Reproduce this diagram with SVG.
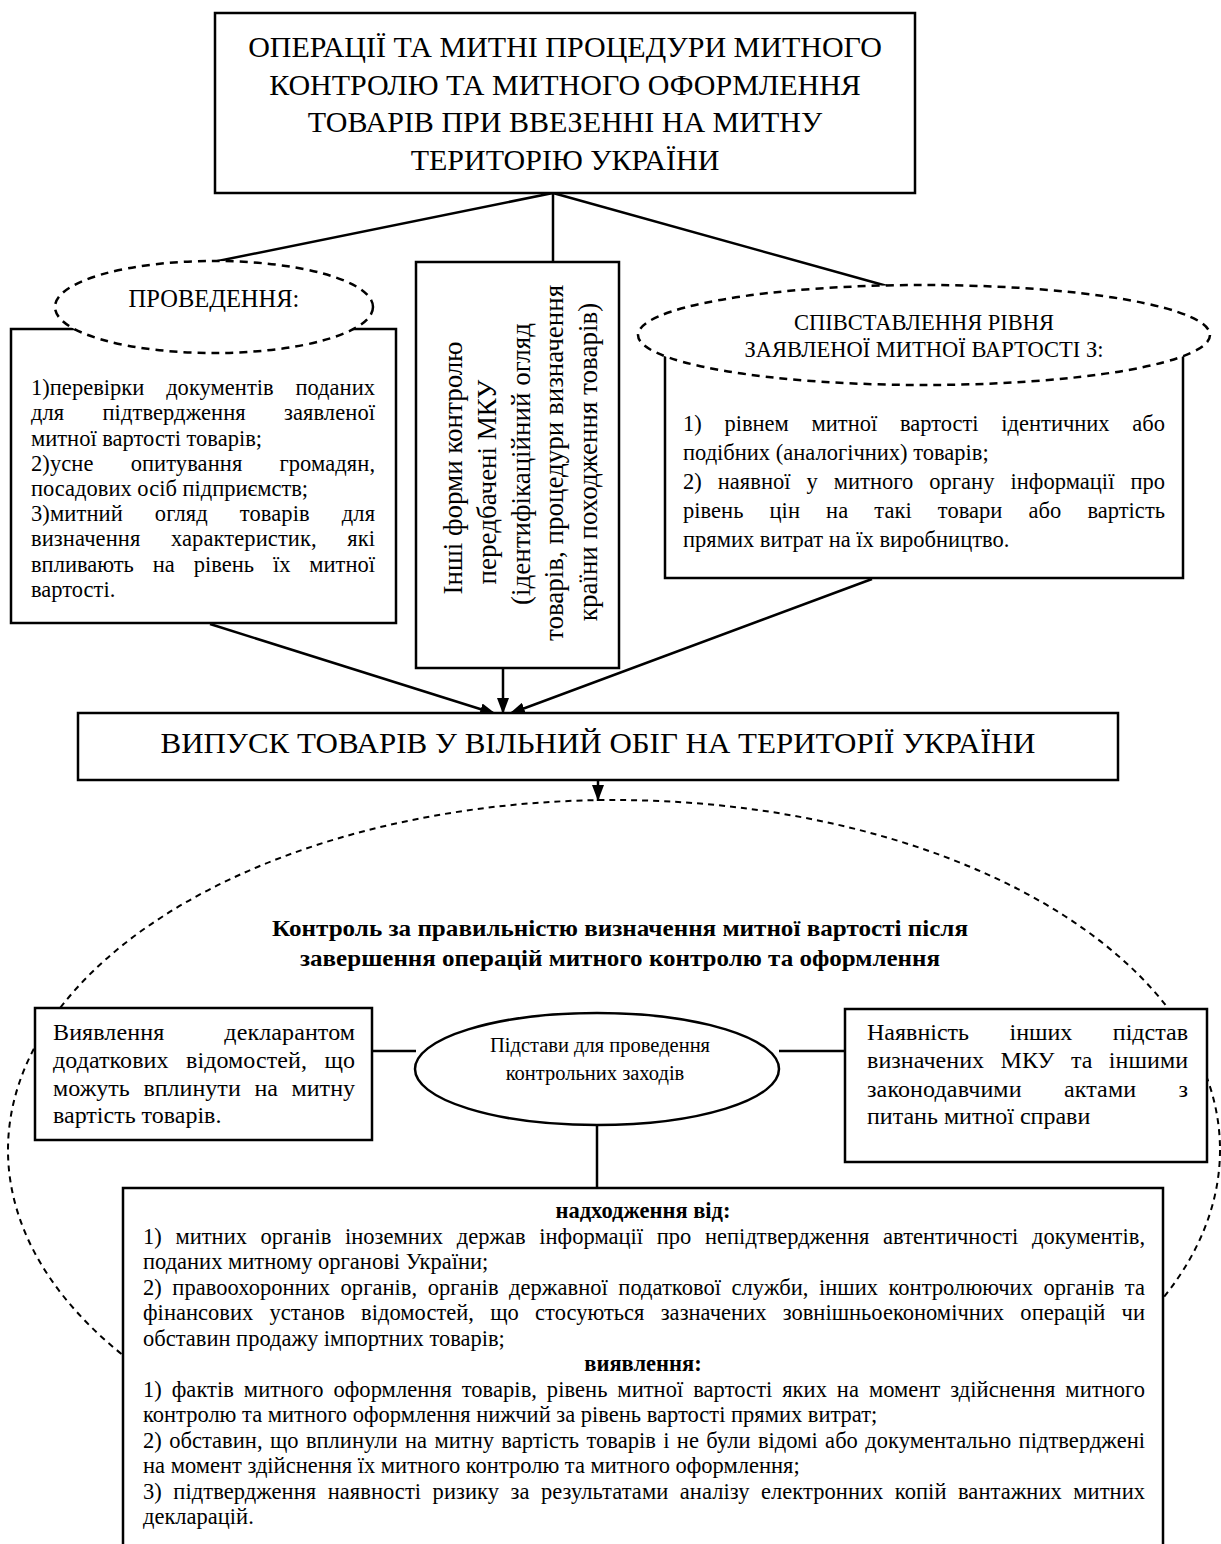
<svg xmlns="http://www.w3.org/2000/svg" width="1221" height="1544" viewBox="0 0 1221 1544">
<defs>
<marker id="ah" markerWidth="16" markerHeight="12" refX="16" refY="6" orient="auto" markerUnits="userSpaceOnUse">
<path d="M0,0 L16,6 L0,12 z" fill="#000"/>
</marker>
</defs>
<style>
text{font-family:"Liberation Serif","Times New Roman",serif;fill:#000}
.box{fill:#fff;stroke:#000;stroke-width:2.5}
.dash{fill:#fff;stroke:#000;stroke-width:2.5;stroke-dasharray:8 6}
.big{fill:none;stroke:#000;stroke-width:2;stroke-dasharray:6 5}
.ln{stroke:#000;stroke-width:2.5;fill:none}
.t30{font-size:30px}
.t22{font-size:22.5px}
.t24{font-size:24px}
.tv{font-size:27px}
.b{font-weight:bold}
</style>
<rect width="1221" height="1544" fill="#fff"/>

<g id="big-ellipse">
<ellipse class="big" cx="614" cy="1150" rx="606" ry="350"/>
</g>

<g id="connectors">
<line class="ln" x1="553" y1="193" x2="213" y2="262"/>
<line class="ln" x1="553" y1="193" x2="553" y2="262"/>
<line class="ln" x1="553" y1="193" x2="887" y2="286"/>
<line class="ln" x1="210" y1="624" x2="496" y2="714" stroke-width="3" marker-end="url(#ah)"/>
<line class="ln" x1="503" y1="668" x2="503" y2="714" marker-end="url(#ah)"/>
<line class="ln" x1="872" y1="579" x2="509" y2="714" stroke-width="3" marker-end="url(#ah)"/>
<line class="ln" x1="598" y1="780" x2="598" y2="801" stroke-width="2" marker-end="url(#ah)"/>
<line class="ln" x1="372" y1="1051" x2="416" y2="1051"/>
<line class="ln" x1="779" y1="1051" x2="845" y2="1051"/>
<line class="ln" x1="597" y1="1125" x2="597" y2="1188" stroke-width="2"/>
</g>

<g id="title">
<rect class="box" x="215" y="13" width="700" height="180"/>
<text class="t30" text-anchor="middle" x="565" y="57">ОПЕРАЦІЇ ТА МИТНІ ПРОЦЕДУРИ МИТНОГО</text>
<text class="t30" text-anchor="middle" x="565" y="94.5">КОНТРОЛЮ ТА МИТНОГО ОФОРМЛЕННЯ</text>
<text class="t30" text-anchor="middle" x="565" y="132">ТОВАРІВ ПРИ ВВЕЗЕННІ НА МИТНУ</text>
<text class="t30" text-anchor="middle" x="565" y="169.5">ТЕРИТОРІЮ УКРАЇНИ</text>
</g>

<g id="left-box">
<rect class="box" x="11" y="329" width="385" height="294"/>
<g class="t22">
<text x="31" y="395" word-spacing="16.1" textLength="344" lengthAdjust="spacing">1)перевірки документів поданих</text>
<text x="31" y="420" word-spacing="32.4" textLength="344" lengthAdjust="spacing">для підтвердження заявленої</text>
<text x="31" y="445.5">митної вартості товарів;</text>
<text x="31" y="470.5" word-spacing="31.4" textLength="344" lengthAdjust="spacing">2)усне опитування громадян,</text>
<text x="31" y="496">посадових осіб підприємств;</text>
<text x="31" y="521" word-spacing="26.3" textLength="344" lengthAdjust="spacing">3)митний огляд товарів для</text>
<text x="31" y="546" word-spacing="24.8" textLength="344" lengthAdjust="spacing">визначення характеристик, які</text>
<text x="31" y="571.5" word-spacing="13.3" textLength="344" lengthAdjust="spacing">впливають на рівень їх митної</text>
<text x="31" y="596.5">вартості.</text>
</g>
</g>

<g id="left-ellipse">
<ellipse class="dash" cx="214" cy="307" rx="159" ry="46"/>
<text x="214" y="307" font-size="24.5" text-anchor="middle">ПРОВЕДЕННЯ:</text>
</g>

<g id="middle-box">
<rect class="box" x="416" y="262" width="203" height="406"/>
<g class="tv" text-anchor="middle">
<text transform="translate(462,468) rotate(-90)">Інші форми контролю</text>
<text transform="translate(496,482) rotate(-90)">передбачені МКУ</text>
<text transform="translate(530,464) rotate(-90)">(ідентифікаційний огляд</text>
<text transform="translate(563,463) rotate(-90)">товарів, процедури визначення</text>
<text transform="translate(597,462) rotate(-90)">країни походження товарів)</text>
</g>
</g>

<g id="right-box">
<rect class="box" x="665" y="345" width="518" height="233"/>
<g class="t22">
<text x="683" y="431" word-spacing="17.1" textLength="482" lengthAdjust="spacing">1) рівнем митної вартості ідентичних або</text>
<text x="683" y="460">подібних (аналогічних) товарів;</text>
<text x="683" y="489" word-spacing="10.3" textLength="482" lengthAdjust="spacing">2) наявної у митного органу інформації про</text>
<text x="683" y="518" word-spacing="20.5" textLength="482" lengthAdjust="spacing">рівень цін на такі товари або вартість</text>
<text x="683" y="547">прямих витрат на їх виробництво.</text>
</g>
</g>

<g id="right-ellipse">
<ellipse class="dash" cx="924" cy="335" rx="286" ry="50"/>
<text class="t22" x="924" y="330" text-anchor="middle">СПІВСТАВЛЕННЯ РІВНЯ</text>
<text class="t22" x="924" y="357" text-anchor="middle">ЗАЯВЛЕНОЇ МИТНОЇ ВАРТОСТІ З:</text>
</g>

<g id="release-box">
<rect class="box" x="78" y="713" width="1040" height="67"/>
<text class="t30" x="598" y="753" text-anchor="middle" textLength="875" lengthAdjust="spacingAndGlyphs">ВИПУСК ТОВАРІВ У ВІЛЬНИЙ ОБІГ НА ТЕРИТОРІЇ УКРАЇНИ</text>
</g>

<g id="control-title">
<text class="b" font-size="24" x="620" y="936" text-anchor="middle" textLength="696" lengthAdjust="spacingAndGlyphs">Контроль за правильністю визначення митної вартості після</text>
<text class="b" font-size="24" x="620" y="966" text-anchor="middle" textLength="640" lengthAdjust="spacingAndGlyphs">завершення операцій митного контролю та оформлення</text>
</g>

<g id="declarant-box">
<rect class="box" x="35" y="1008" width="337" height="132"/>
<g class="t24">
<text x="53" y="1040" word-spacing="53.9" textLength="302" lengthAdjust="spacing">Виявлення декларантом</text>
<text x="53" y="1068" word-spacing="11.4" textLength="302" lengthAdjust="spacing">додаткових відомостей, що</text>
<text x="53" y="1096" word-spacing="7.6" textLength="302" lengthAdjust="spacing">можуть вплинути на митну</text>
<text x="53" y="1123">вартість товарів.</text>
</g>
</g>

<g id="grounds-ellipse">
<ellipse class="box" cx="597" cy="1069" rx="182" ry="56"/>
<text x="600" y="1052" font-size="20.5" text-anchor="middle">Підстави для проведення</text>
<text x="595" y="1080" font-size="20.5" text-anchor="middle">контрольних заходів</text>
</g>

<g id="other-box">
<rect class="box" x="845" y="1009" width="362" height="153"/>
<g class="t24">
<text x="867" y="1040" word-spacing="34.5" textLength="321" lengthAdjust="spacing">Наявність інших підстав</text>
<text x="867" y="1068" word-spacing="10.3" textLength="321" lengthAdjust="spacing">визначених МКУ та іншими</text>
<text x="867" y="1097" word-spacing="36.2" textLength="321" lengthAdjust="spacing">законодавчими актами з</text>
<text x="867" y="1124">питань митної справи</text>
</g>
</g>

<g id="details-box">
<rect class="box" x="123" y="1188" width="1040" height="400"/>
<g class="t22">
<text class="b" x="643" y="1218" text-anchor="middle">надходження від:</text>
<text x="143" y="1243.5" word-spacing="8" textLength="1002" lengthAdjust="spacing">1) митних органів іноземних держав інформації про непідтвердження автентичності документів,</text>
<text x="143" y="1269">поданих митному органові України;</text>
<text x="143" y="1294.5" word-spacing="4.8" textLength="1002" lengthAdjust="spacing">2) правоохоронних органів, органів державної податкової служби, інших контролюючих органів та</text>
<text x="143" y="1320" word-spacing="10.6" textLength="1002" lengthAdjust="spacing">фінансових установ відомостей, що стосуються зазначених зовнішньоекономічних операцій чи</text>
<text x="143" y="1345.5">обставин продажу імпортних товарів;</text>
<text class="b" x="643" y="1371" text-anchor="middle">виявлення:</text>
<text x="143" y="1396.5" word-spacing="4.2" textLength="1002" lengthAdjust="spacing">1) фактів митного оформлення товарів, рівень митної вартості яких на момент здійснення митного</text>
<text x="143" y="1422">контролю та митного оформлення нижчий за рівень вартості прямих витрат;</text>
<text x="143" y="1447.5" word-spacing="1.7" textLength="1002" lengthAdjust="spacing">2) обставин, що вплинули на митну вартість товарів і не були відомі або документально підтверджені</text>
<text x="143" y="1473">на момент здійснення їх митного контролю та митного оформлення;</text>
<text x="143" y="1498.5" word-spacing="5.8" textLength="1002" lengthAdjust="spacing">3) підтвердження наявності ризику за результатами аналізу електронних копій вантажних митних</text>
<text x="143" y="1524">декларацій.</text>
</g>
</g>
</svg>
